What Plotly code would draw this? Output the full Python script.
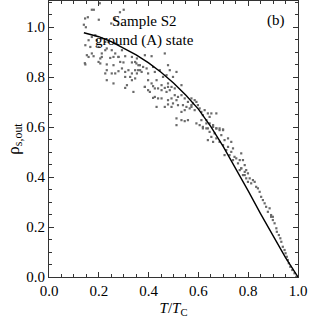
import plotly.graph_objects as go

t_data = [
    0.204, 0.18, 0.172, 0.285, 0.30, 0.145, 0.156, 0.20, 0.265, 0.25, 0.277, 0.14, 0.148,
    0.186, 0.172, 0.159, 0.192, 0.212, 0.226, 0.239, 0.266, 0.146, 0.166, 0.199, 0.232,
    0.252, 0.266, 0.172, 0.212, 0.226, 0.152, 0.293, 0.206, 0.259, 0.279, 0.144,
    0.159, 0.179, 0.212, 0.246, 0.279, 0.306, 0.333, 0.353, 0.146, 0.199, 0.206, 0.232,
    0.259, 0.286, 0.299, 0.333, 0.346, 0.359, 0.366, 0.293, 0.319, 0.346, 0.232, 0.279,
    0.306, 0.333, 0.353, 0.226, 0.252, 0.266, 0.306, 0.326, 0.346, 0.333, 0.232, 0.259,
    0.313, 0.306, 0.339,
    0.385, 0.412, 0.465, 0.351, 0.365, 0.378, 0.358, 0.372, 0.392, 0.398, 0.418, 0.425,
    0.445, 0.478, 0.485, 0.512, 0.458, 0.472, 0.498, 0.398, 0.412, 0.432, 0.452, 0.478,
    0.492, 0.505, 0.425, 0.532, 0.385,
    0.385, 0.398, 0.418, 0.405, 0.438, 0.452, 0.465, 0.478, 0.472, 0.485, 0.425, 0.438,
    0.418, 0.452, 0.478, 0.492, 0.505, 0.512, 0.518, 0.532, 0.545, 0.558, 0.498, 0.518,
    0.538, 0.552, 0.565, 0.545, 0.572, 0.478, 0.465, 0.492, 0.432, 0.532, 0.512, 0.532,
    0.545, 0.558, 0.512,
    0.572, 0.585, 0.592, 0.578, 0.572, 0.598, 0.585, 0.605, 0.612, 0.625, 0.618, 0.638,
    0.645, 0.652, 0.672, 0.632, 0.612, 0.592, 0.605, 0.632, 0.645, 0.659, 0.672, 0.685,
    0.699, 0.618, 0.638,
    0.618, 0.632, 0.659, 0.672, 0.685, 0.699, 0.645, 0.665, 0.652, 0.672, 0.692, 0.638,
    0.659, 0.685, 0.705, 0.719, 0.732, 0.699, 0.719, 0.739, 0.712, 0.732, 0.725, 0.705,
    0.745, 0.752, 0.766, 0.739, 0.759, 0.772, 0.766, 0.786, 0.779, 0.792, 0.799,
    0.772, 0.779, 0.786, 0.772, 0.792, 0.786, 0.799, 0.806, 0.819, 0.812, 0.826, 0.832,
    0.839, 0.846, 0.852, 0.859, 0.866, 0.872, 0.886, 0.879, 0.892, 0.899, 0.899,
    0.892, 0.906, 0.913, 0.915, 0.923, 0.929, 0.933, 0.939, 0.946, 0.950, 0.955, 0.959,
    0.963, 0.969, 0.977, 0.986, 0.993,
]
rho_data = [
    1.096, 1.07, 1.07, 1.06, 1.07, 1.035, 1.04, 1.03, 1.035, 1.015, 1.01, 1.01, 1.0,
    0.968, 0.961, 0.948, 0.948, 0.955, 0.941, 0.941, 0.935, 0.928, 0.921, 0.921, 0.915,
    0.908, 0.895, 0.895, 0.895, 0.908, 0.888, 0.908, 0.875, 0.881, 0.881, 0.856,
    0.881, 0.884, 0.881, 0.877, 0.881, 0.884, 0.881, 0.875, 0.851, 0.861, 0.855, 0.851,
    0.848, 0.861, 0.859, 0.859, 0.861, 0.848, 0.828, 0.835, 0.828, 0.828, 0.828, 0.824,
    0.821, 0.815, 0.815, 0.815, 0.815, 0.815, 0.801, 0.801, 0.795, 0.788, 0.788, 0.775,
    0.768, 0.757, 0.741,
    0.888, 0.884, 0.895, 0.855, 0.848, 0.841, 0.828, 0.821, 0.835, 0.815, 0.841, 0.821,
    0.828, 0.848, 0.828, 0.821, 0.801, 0.808, 0.801, 0.788, 0.775, 0.788, 0.768, 0.775,
    0.761, 0.755, 0.755, 0.768, 0.761,
    0.761, 0.748, 0.764, 0.741, 0.755, 0.748, 0.757, 0.761, 0.741, 0.748, 0.721, 0.715,
    0.717, 0.715, 0.708, 0.715, 0.728, 0.708, 0.721, 0.728, 0.715, 0.701, 0.695, 0.688,
    0.688, 0.681, 0.675, 0.668, 0.688, 0.691, 0.681, 0.681, 0.681, 0.661, 0.635, 0.628,
    0.624, 0.628, 0.608,
    0.715, 0.708, 0.701, 0.695, 0.681, 0.688, 0.668, 0.675, 0.661, 0.668, 0.648, 0.655,
    0.641, 0.655, 0.655, 0.628, 0.628, 0.615, 0.608, 0.615, 0.615, 0.608, 0.595, 0.595,
    0.591, 0.595, 0.595,
    0.601, 0.595, 0.601, 0.595, 0.588, 0.588, 0.581, 0.575, 0.561, 0.555, 0.568, 0.548,
    0.541, 0.541, 0.548, 0.555, 0.541, 0.528, 0.521, 0.515, 0.508, 0.501, 0.488, 0.488,
    0.481, 0.475, 0.468, 0.468, 0.455, 0.435, 0.428, 0.421, 0.408, 0.395, 0.381,
    0.495, 0.468, 0.448, 0.435, 0.428, 0.408, 0.415, 0.395, 0.388, 0.375, 0.381, 0.361,
    0.355, 0.341, 0.321, 0.308, 0.295, 0.281, 0.275, 0.261, 0.248, 0.241, 0.228,
    0.241, 0.215, 0.195, 0.181, 0.168, 0.155, 0.141, 0.121, 0.108, 0.095, 0.081, 0.068,
    0.055, 0.041, 0.028, 0.015, 0.001,
]

# Theoretical curve
curve_t = [0.14, 0.20, 0.25, 0.30, 0.35, 0.40, 0.45, 0.50, 0.55, 0.60, 0.65, 0.70,
           0.75, 0.80, 0.85, 0.90, 0.95, 1.00]
curve_rho = [0.978, 0.962, 0.942, 0.917, 0.889, 0.857, 0.82, 0.777, 0.728, 0.672, 0.602,
             0.522, 0.435, 0.345, 0.253, 0.163, 0.078, 0.0]

x_ticks = [0.0, 0.2, 0.4, 0.6, 0.8, 1.0]
y_ticks = [0.0, 0.2, 0.4, 0.6, 0.8, 1.0]
x_labels = ["0.0", "0.2", "0.4", "0.6", "0.8", "1.0"]
y_labels = ["0.0", "0.2", "0.4", "0.6", "0.8", "1.0"]

FONT = "Liberation Serif, Times New Roman, serif"

fig = go.Figure()
fig.add_trace(go.Scatter(x=t_data, y=rho_data, mode="markers",
                         marker=dict(size=2.2, color="#6a6a6a", symbol="square"),
                         showlegend=False, hoverinfo="skip"))
fig.add_trace(go.Scatter(x=curve_t, y=curve_rho, mode="lines",
                         line=dict(color="black", width=1.4),
                         showlegend=False, hoverinfo="skip"))

axis_common = dict(
    showgrid=False, zeroline=False, showline=True, linecolor="#333", linewidth=1.2,
    mirror="allticks", ticks="inside", ticklen=5, tickwidth=1, tickcolor="#333",
    tickfont=dict(family=FONT, size=15, color="black"),
    minor=dict(ticks="inside", ticklen=3, tickwidth=1, tickcolor="#333", dtick=0.05),
)

fig.update_xaxes(range=[0, 1.0], tickvals=x_ticks, ticktext=x_labels,
                 title=dict(text="<i>T</i>/<i>T</i><sub>C</sub>",
                            font=dict(family=FONT, size=15, color="black"), standoff=4),
                 **axis_common)
fig.update_yaxes(range=[0, 1.105], tickvals=y_ticks, ticktext=y_labels,
                 title=dict(text="ρ<sub>s,out</sub>",
                            font=dict(family=FONT, size=17, color="black"), standoff=2),
                 **axis_common)

fig.add_annotation(x=0.385, y=1.025, text="Sample S2", showarrow=False,
                   font=dict(family=FONT, size=15, color="black"))
fig.add_annotation(x=0.385, y=0.948, text="ground (A) state", showarrow=False,
                   font=dict(family=FONT, size=15, color="black"))
fig.add_annotation(x=0.912, y=1.025, text="(b)", showarrow=False,
                   font=dict(family=FONT, size=15, color="black"))

fig.update_layout(width=309, height=327, plot_bgcolor="white", paper_bgcolor="white",
                  margin=dict(l=49, r=11, t=1, b=50))

fig.write_html("out.html", config={"displayModeBar": False},
               post_script="document.body.style.margin='0px';document.body.style.padding='0px';")
